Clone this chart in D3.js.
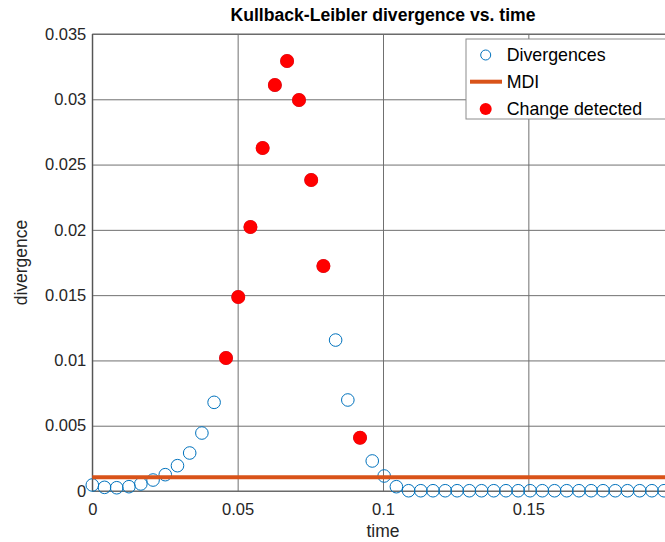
<!DOCTYPE html>
<html>
<head>
<meta charset="utf-8">
<script src="https://cdn.jsdelivr.net/npm/d3@7"></script>
<style>
  body { margin: 0; background: #fff; }
  svg { display: block; font-family: "Liberation Sans", Arial, sans-serif; }
</style>
</head>
<body>
<script>
const width = 665;
const height = 542;

// sample times (s)
const times = [
    0, 0.0042, 0.0084, 0.0126, 0.0167, 0.0209, 0.0251, 0.0293, 0.0335, 0.0377,
    0.0419, 0.0460, 0.0502, 0.0544, 0.0586, 0.0628, 0.0670, 0.0711, 0.0753, 0.0795,
    0.0837, 0.0879, 0.0921, 0.0963, 0.1004, 0.1046, 0.1088, 0.1130, 0.1172, 0.1214,
    0.1255, 0.1297, 0.1339, 0.1381, 0.1423, 0.1465, 0.1506, 0.1548, 0.1590, 0.1632,
    0.1674, 0.1716, 0.1757, 0.1799, 0.1841, 0.1883, 0.1925, 0.1967
];
const divergences = [
    0.00046, 0.00028, 0.00025, 0.00033, 0.00054, 0.00084, 0.00125, 0.00194, 0.00291, 0.00444,
    0.00679, 0.01019, 0.01486, 0.02022, 0.02627, 0.03109, 0.03293, 0.02994, 0.02382, 0.01723,
    0.01156, 0.00697, 0.00408, 0.00230, 0.00115, 0.00033, 0.00002, 0.00002, 0.00002, 0.00002,
    0.00002, 0.00002, 0.00002, 0.00002, 0.00002, 0.00002, 0.00002, 0.00002, 0.00002, 0.00002,
    0.00002, 0.00002, 0.00002, 0.00002, 0.00002, 0.00002, 0.00002, 0.00002
];
const detectedIdx = [11, 12, 13, 14, 15, 16, 17, 18, 19, 22];
const mdi = 0.00105;

const xTicks = [0, 0.05, 0.1, 0.15];
const yTicks = [0, 0.005, 0.01, 0.015, 0.02, 0.025, 0.03, 0.035];
const legendLabels = ["Divergences", "MDI", "Change detected"];

const blue = "#0072BD";
const orange = "#D95319";
const red = "#FF0000";
const textColor = "#262626";
const gridColor = "#707070";

const plot = { left: 92.3, right: 673.7, top: 34, bottom: 491 };

const x = d3.scaleLinear().domain([0, 0.2]).range([plot.left, plot.right]);
const y = d3.scaleLinear().domain([0, 0.035]).range([plot.bottom, plot.top]);

const svg = d3.select("body").append("svg")
    .attr("width", width)
    .attr("height", height);

svg.append("rect").attr("width", width).attr("height", height).attr("fill", "#fff");

// grid lines through the axes
const gx = svg.append("g")
    .attr("transform", `translate(0,${plot.bottom})`)
    .call(d3.axisBottom(x).tickValues(xTicks).tickSize(-(plot.bottom - plot.top)).tickFormat(d3.format("~g")).tickPadding(12));
gx.select(".domain").remove();
gx.selectAll("line").attr("stroke", gridColor).attr("stroke-width", 1);
gx.selectAll("text").attr("fill", textColor).style("font-size", "16.5px");

const gy = svg.append("g")
    .attr("transform", `translate(${plot.left},0)`)
    .call(d3.axisLeft(y).tickValues(yTicks).tickSize(-(plot.right - plot.left)).tickFormat(d3.format("~g")).tickPadding(6));
gy.select(".domain").remove();
gy.selectAll("line").attr("stroke", gridColor).attr("stroke-width", 1);
gy.selectAll("text").attr("fill", textColor).style("font-size", "16.5px");

// axes box
svg.append("line")
    .attr("x1", plot.left).attr("x2", plot.left)
    .attr("y1", plot.top).attr("y2", plot.bottom)
    .attr("stroke", "#444");
svg.append("line")
    .attr("x1", plot.left).attr("x2", plot.right)
    .attr("y1", plot.bottom).attr("y2", plot.bottom)
    .attr("stroke", "#666");
svg.append("line")
    .attr("x1", plot.left).attr("x2", plot.right)
    .attr("y1", plot.top).attr("y2", plot.top)
    .attr("stroke", "#666");

// divergences
svg.append("g").selectAll("circle")
    .data(divergences)
    .enter()
    .append("circle")
    .attr("cx", (d, i) => x(times[i]))
    .attr("cy", d => y(d))
    .attr("r", 6.3)
    .attr("fill", "none")
    .attr("stroke", blue)
    .attr("stroke-width", 1);

// MDI threshold
svg.append("line")
    .attr("x1", x(times[0])).attr("x2", plot.right)
    .attr("y1", y(mdi)).attr("y2", y(mdi))
    .attr("stroke", orange)
    .attr("stroke-width", 4);

// detected changes
svg.append("g").selectAll("circle")
    .data(detectedIdx)
    .enter()
    .append("circle")
    .attr("cx", i => x(times[i]))
    .attr("cy", i => y(divergences[i]))
    .attr("r", 7)
    .attr("fill", red);

// title and labels
svg.append("text")
    .attr("x", (plot.left + plot.right) / 2)
    .attr("y", 20.5)
    .attr("text-anchor", "middle")
    .attr("fill", "#000")
    .style("font-size", "17.6px")
    .style("font-weight", "bold")
    .text("Kullback-Leibler divergence vs. time");

svg.append("text")
    .attr("x", (plot.left + plot.right) / 2)
    .attr("y", 537)
    .attr("text-anchor", "middle")
    .attr("fill", textColor)
    .style("font-size", "17.5px")
    .text("time");

svg.append("text")
    .attr("transform", `translate(27,${(plot.top + plot.bottom) / 2}) rotate(-90)`)
    .attr("text-anchor", "middle")
    .attr("fill", textColor)
    .style("font-size", "17.5px")
    .text("divergence");

// legend
const legend = svg.append("g").attr("transform", "translate(466,39)");
legend.append("rect")
    .attr("width", 240)
    .attr("height", 80)
    .attr("fill", "#fff")
    .attr("stroke", "#8c8c8c");

const rowY = [16, 42.7, 70];
legend.append("circle")
    .attr("cx", 19.7).attr("cy", rowY[0]).attr("r", 5)
    .attr("fill", "none").attr("stroke", blue);
legend.append("line")
    .attr("x1", 4).attr("x2", 36)
    .attr("y1", rowY[1]).attr("y2", rowY[1])
    .attr("stroke", orange).attr("stroke-width", 4);
legend.append("circle")
    .attr("cx", 19.7).attr("cy", rowY[2]).attr("r", 6)
    .attr("fill", red);

legend.selectAll("text.label")
    .data(legendLabels)
    .enter()
    .append("text")
    .attr("class", "label")
    .attr("x", 40.7)
    .attr("y", (d, i) => rowY[i])
    .attr("dy", "0.36em")
    .attr("fill", "#000")
    .style("font-size", "17.8px")
    .text(d => d);
</script>
</body>
</html>
